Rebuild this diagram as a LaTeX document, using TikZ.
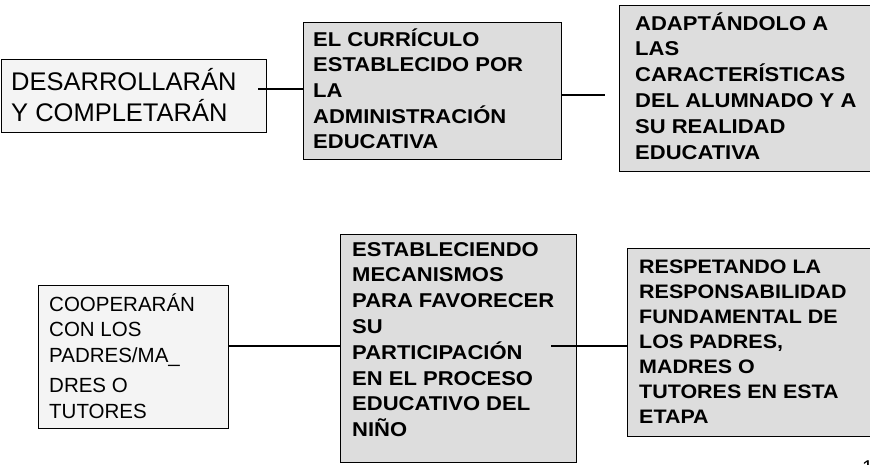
\documentclass[tikz,border=0pt]{standalone}
\usepackage{fontspec}
\setmainfont{Liberation Sans}
\newfontfamily\wfont[FakeStretch=1.1]{Liberation Sans}
\definecolor{lite}{HTML}{F4F4F4}
\definecolor{dark}{HTML}{DDDDDD}
\begin{document}
\begin{tikzpicture}[x=1pt,y=-1pt,
  boxl/.style={draw=black, line width=1.3pt, fill=lite, inner sep=0pt, anchor=north west},
  boxd/.style={draw=black, line width=1.3pt, fill=dark, inner sep=0pt, anchor=north west},
  txt/.style={anchor=base west, align=left, inner sep=0pt},
  conn/.style={draw=black, line width=1.3pt}]
\useasboundingbox (0,0) rectangle (870,464);
\clip (0,0) rectangle (870,464);
% boxes
\node[boxl, minimum width=265pt, minimum height=73pt] (b1) at (1,59) {};
\node[boxd, minimum width=258pt, minimum height=137pt] (b2) at (303,22) {};
\node[boxd, minimum width=270pt, minimum height=166pt] (b3) at (619,5) {};
\node[boxl, minimum width=190pt, minimum height=143pt] (b4) at (38,285) {};
\node[boxd, minimum width=236pt, minimum height=228pt] (b5) at (340,234) {};
\node[boxd, minimum width=260pt, minimum height=188pt] (b6) at (627,248) {};
% texts (anchored at the baseline of the last line)
\node[txt, font=\fontsize{25.5}{31}\selectfont] (t1) at (11,121) {DESARROLLARÁN\\Y COMPLETARÁN};
\node[txt, font=\wfont\bfseries\fontsize{20}{25.7}\selectfont] (t2) at (313,148.8)
  {EL CURRÍCULO\\ESTABLECIDO POR\\LA\\ADMINISTRACIÓN\\EDUCATIVA};
\node[txt, font=\wfont\bfseries\fontsize{20}{25.9}\selectfont] (t3) at (635,159.5)
  {ADAPTÁNDOLO A\\LAS\\CARACTERÍSTICAS\\DEL ALUMNADO Y A\\SU REALIDAD\\EDUCATIVA};
\node[txt, font=\fontsize{20.5}{25.5}\selectfont] (t4) at (49,418)
  {COOPERARÁN\\CON LOS\\PADRES/MA\_\\[5pt]DRES O\\TUTORES};
\node[txt, font=\wfont\bfseries\fontsize{20}{25.8}\selectfont] (t5) at (352,436.6)
  {ESTABLECIENDO\\MECANISMOS\\PARA FAVORECER\\SU\\PARTICIPACIÓN\\EN EL PROCESO\\EDUCATIVO DEL\\NIÑO};
\node[txt, font=\wfont\bfseries\fontsize{19.5}{25}\selectfont] (t6) at (639,423)
  {RESPETANDO LA\\RESPONSABILIDAD\\FUNDAMENTAL DE\\LOS PADRES,\\MADRES O\\TUTORES EN ESTA\\ETAPA};
\node[txt, font=\fontsize{20}{24}\selectfont] (pg) at (862,474) {1};
% connectors
\coordinate (c1s) at (258,89);
\coordinate (c2e) at (605,95);
\coordinate (c4s) at (551,346);
\draw[conn] (c1s) -- (c1s -| b2.west);
\draw[conn] (b2.east |- c2e) -- (c2e);
\draw[conn] (b4.east |- c4s) -- (b5.west |- c4s);
\draw[conn] (c4s) -- (c4s -| b6.west);
\end{tikzpicture}
\end{document}
